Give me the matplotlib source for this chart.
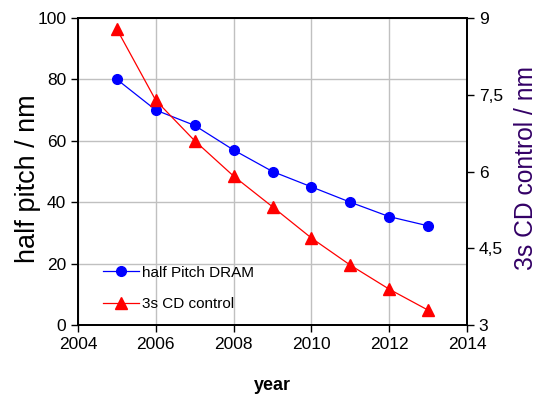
import numpy as np
import matplotlib.pyplot as plt

plt.rcParams['font.family'] = ['Liberation Sans', 'DejaVu Sans']

years = [2005, 2006, 2007, 2008, 2009, 2010, 2011, 2012, 2013]
half_pitch = [80, 70, 65, 57, 50, 45, 40, 35.3, 32.3]
cd_control = [8.78, 7.39, 6.6, 5.91, 5.31, 4.7, 4.17, 3.7, 3.29]

xticks = [2004, 2006, 2008, 2010, 2012, 2014]
left_ticks = [0, 20, 40, 60, 80, 100]
right_ticks = [3, 4.5, 6, 7.5, 9]
right_labels = ['3', '4,5', '6', '7,5', '9']

fig = plt.figure(figsize=(5.42, 4.01), dpi=100)
ax = fig.add_axes([78 / 542, 1 - 325 / 401, (467 - 78) / 542, (325 - 18) / 401])
ax2 = ax.twinx()

l1, = ax.plot(years, half_pitch, color='blue', lw=0.9, marker='o', ms=7,
              label='half Pitch DRAM', zorder=3)
l2, = ax2.plot(years, cd_control, color='red', lw=0.9, marker='^', ms=8,
               label='3s CD control', zorder=3)

ax.set_xlim(2004, 2014)
ax.set_ylim(0, 100)
ax2.set_ylim(3, 9)
ax.set_xticks(xticks)
ax.set_yticks(left_ticks)
ax2.set_yticks(right_ticks)
ax2.set_yticklabels(right_labels)

ax.grid(True, color='#c0c0c0', lw=1)
ax.set_axisbelow(True)
for a in (ax, ax2):
    for s in a.spines.values():
        s.set_linewidth(1.3)
ax.tick_params(labelsize=12.5, length=5, width=1)
ax2.tick_params(labelsize=12.5, length=5, width=1)

ax.set_ylabel('half pitch / nm', fontsize=19.5, labelpad=-3)
ax.yaxis.label.set_y(0.478)
ax2.set_ylabel('3s CD control / nm', fontsize=17.7, color='#330066', labelpad=8)
ax2.yaxis.label.set_y(0.51)
ax.set_xlabel('year', fontsize=13, fontweight='bold', labelpad=18)

ax.legend([l1, l2], ['half Pitch DRAM', '3s CD control'], loc='lower left',
          bbox_to_anchor=(0.03, 0.0), frameon=False, fontsize=11,
          handlelength=2.3, labelspacing=1.15, handletextpad=0.2)

fig.savefig('out.png', dpi=100)
